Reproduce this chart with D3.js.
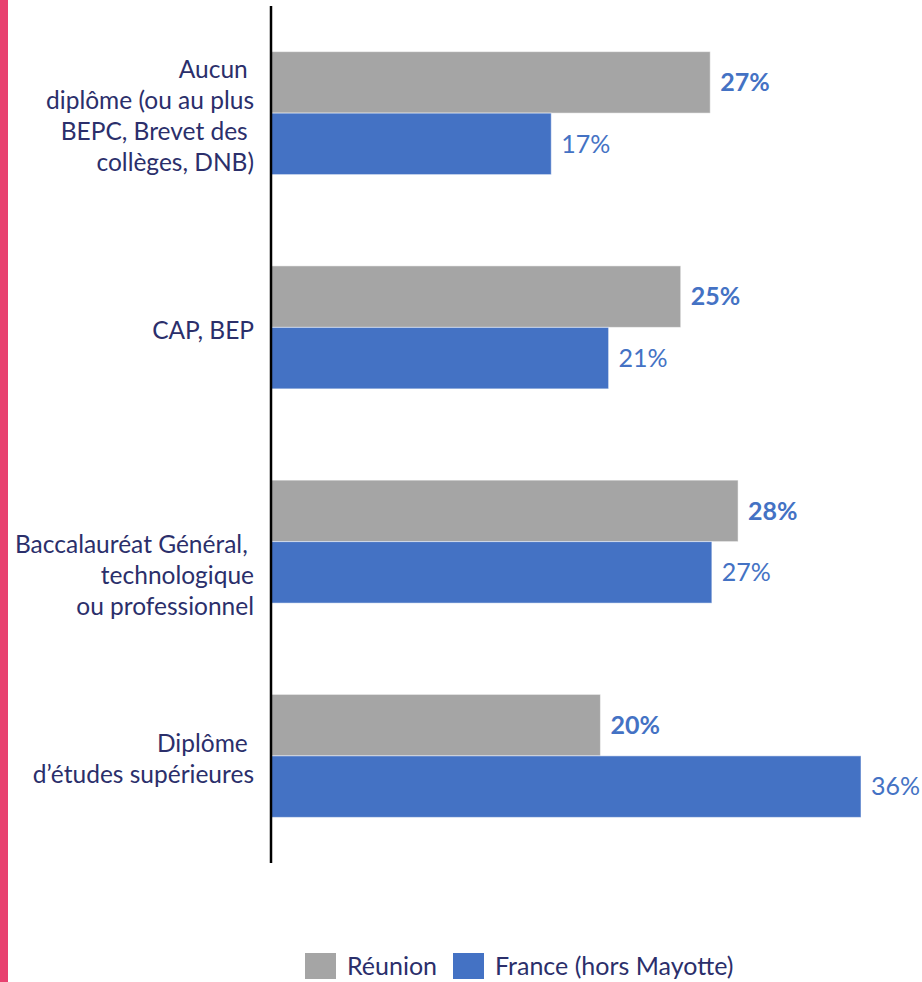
<!DOCTYPE html>
<html>
<head>
<meta charset="utf-8">
<script src="https://cdn.jsdelivr.net/npm/d3@7"></script>
<style>
  body { margin: 0; background: #fff; }
  svg { display: block; }
  text { font-family: Lato, "Open Sans", sans-serif; }
</style>
</head>
<body>
<svg id="chart" width="922" height="982"></svg>
<script>
// Data
const categories = ["aucun", "cap", "bac", "sup"];
const categoryLines = [
    ["Aucun ", "diplôme (ou au plus", "BEPC, Brevet des ", "collèges, DNB)"],
    ["CAP, BEP"],
    ["Baccalauréat Général, ", "technologique", "ou professionnel"],
    ["Diplôme ", "d\u2019études supérieures"]
];
const series = ["Réunion", "France (hors Mayotte)"];
const reunion = [26.8, 25.0, 28.5, 20.1];
const france = [17.1, 20.6, 26.9, 36.0];
const reunionLabels = ["27%", "25%", "28%", "20%"];
const franceLabels = ["17%", "21%", "27%", "36%"];

const grey = "#a5a5a5";
const blue = "#4472c4";
const navy = "#2b2f6b";

let svg = d3.select("#chart");

// pink strip on the left edge
svg.append("rect")
    .attr("x", 0).attr("y", 0)
    .attr("width", 8).attr("height", 982)
    .attr("fill", "#e8416f");

let x = d3.scaleLinear().domain([0, 36]).range([271, 861]);
let y = d3.scaleBand().domain(categories).range([6, 863])
    .paddingInner(0.426).paddingOuter(0.213);
let y1 = d3.scaleBand().domain([0, 1]).range([0, y.bandwidth()]);

let rows = categories.map((c, i) => ({
    cat: c,
    vals: [reunion[i], france[i]],
    labels: [reunionLabels[i], franceLabels[i]],
    lines: categoryLines[i]
}));

let groups = svg.selectAll(".group")
    .data(rows)
    .enter()
    .append("g")
    .attr("class", "group")
    .attr("transform", d => `translate(0, ${y(d.cat)})`);

groups.selectAll("rect")
    .data(d => d.vals)
    .enter()
    .append("rect")
    .attr("x", x(0))
    .attr("y", (d, i) => y1(i))
    .attr("width", d => x(d) - x(0))
    .attr("height", y1.bandwidth())
    .attr("fill", (d, i) => i === 0 ? grey : blue)
    .attr("stroke", "#ffffff")
    .attr("stroke-opacity", 0.5)
    .attr("stroke-width", 1);

// value labels
groups.selectAll(".val")
    .data(d => d.vals.map((v, i) => ({v: v, label: d.labels[i], i: i})))
    .enter()
    .append("text")
    .attr("class", "val")
    .attr("x", d => x(d.v) + 10)
    .attr("y", d => y1(d.i) + y1.bandwidth() / 2)
    .attr("dy", "0.35em")
    .attr("fill", blue)
    .attr("font-size", 25)
    .attr("font-weight", d => d.i === 0 ? "bold" : "normal")
    .text(d => d.label);

// category labels, right aligned against the axis
const lineH = 31;
groups.each(function(d, gi) {
    let n = d.lines.length;
    // the baccalauréat label sits a line lower in the original
    let start = y.bandwidth() / 2 - (n - 1) * lineH / 2 + (gi === 2 ? lineH : 0) + 3;
    d3.select(this).selectAll(".cat")
        .data(d.lines)
        .enter()
        .append("text")
        .attr("class", "cat")
        .attr("x", 254)
        .attr("y", (l, i) => start + i * lineH)
        .attr("dy", "0.35em")
        .attr("text-anchor", "end")
        .attr("fill", navy)
        .attr("font-size", 24.5)
        .style("white-space", "pre")
        .text(l => l);
});

// axis line
svg.append("line")
    .attr("x1", x(0)).attr("x2", x(0))
    .attr("y1", 6).attr("y2", 863)
    .attr("stroke", "#000")
    .attr("stroke-width", 2.5);

// legend (nudged up a little so the descenders stay inside the page)
let legend = svg.append("g").attr("transform", "translate(305, 953)");
let legendX = [0, 148];
let items = legend.selectAll(".item")
    .data(series)
    .enter()
    .append("g")
    .attr("class", "item")
    .attr("transform", (d, i) => `translate(${legendX[i]}, 0)`);
items.append("rect")
    .attr("width", 31).attr("height", 26)
    .attr("fill", (d, i) => i === 0 ? grey : blue);
items.append("text")
    .attr("x", 42)
    .attr("y", 22)
    .attr("fill", navy)
    .attr("font-size", 25)
    .text(d => d);
</script>
</body>
</html>
